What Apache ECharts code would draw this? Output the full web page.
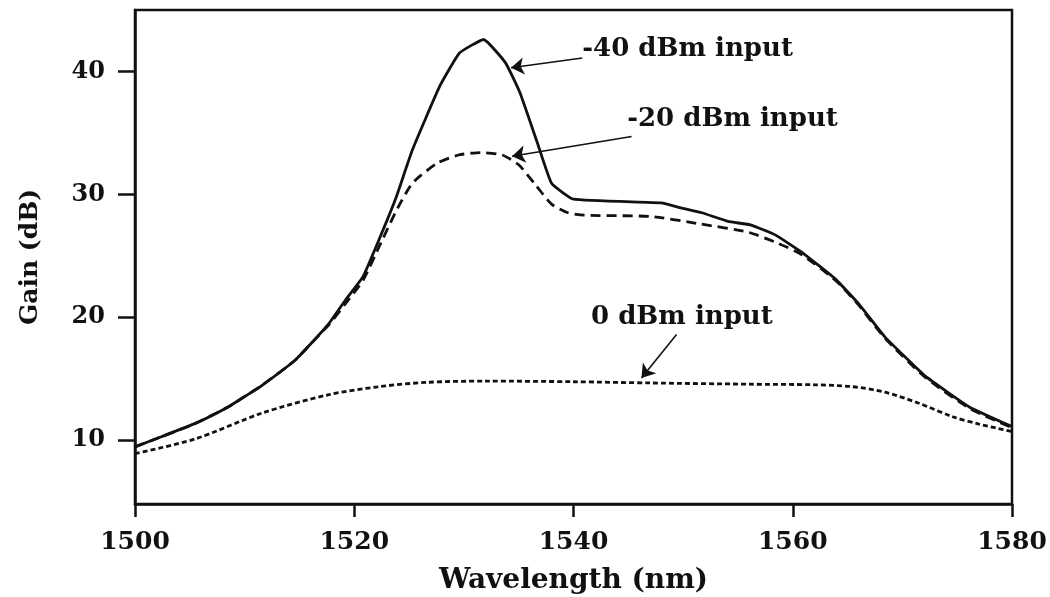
<!DOCTYPE html>
<html>
<head>
<meta charset="utf-8">
<script src="https://cdn.jsdelivr.net/npm/echarts@6/dist/echarts.min.js"></script>
<style>
html,body{margin:0;padding:0;background:#fff;}
#chart{width:1050px;height:597px;}
</style>
</head>
<body>
<div id="chart"></div>
<script>
// ---- data ----
const wl40   = [1500, 1502.4, 1505.5, 1508.5, 1510.1, 1511.5, 1514.6, 1516.1, 1517.7, 1519.2, 1520.8, 1522.3, 1523.8, 1525.3, 1527.8, 1529.6, 1531.8, 1533.8, 1535.1, 1536.7, 1538.0, 1540.0, 1548.0, 1549.8, 1551.7, 1554.1, 1556.2, 1558.4, 1560.8, 1563.9, 1566.0, 1568.4, 1572.1, 1576.1, 1580];
const gain40 = [9.45, 10.27, 11.36, 12.7, 13.6, 14.4, 16.5, 17.9, 19.5, 21.4, 23.3, 26.4, 29.7, 33.6, 38.8, 41.5, 42.6, 40.7, 38.3, 34.2, 30.9, 29.6, 29.3, 28.9, 28.5, 27.8, 27.5, 26.7, 25.3, 23.1, 21.1, 18.4, 15.2, 12.7, 11.1];

const wl20   = [1500, 1502.4, 1505.5, 1508.5, 1510.1, 1511.5, 1514.6, 1516.1, 1517.7, 1519.2, 1520.8, 1522.3, 1523.8, 1525.3, 1527.5, 1529.5, 1531.5, 1533.5, 1535.0, 1536.6, 1538.0, 1539.5, 1541.0, 1547.0, 1551.5, 1556.0, 1558.7, 1560.8, 1563.9, 1566.0, 1568.4, 1572.1, 1576.1, 1580];
const gain20 = [9.45, 10.27, 11.36, 12.7, 13.6, 14.4, 16.5, 17.9, 19.4, 21.1, 23.0, 25.8, 28.6, 30.9, 32.5, 33.2, 33.4, 33.2, 32.4, 30.7, 29.2, 28.5, 28.3, 28.2, 27.6, 26.9, 26.0, 25.1, 23.0, 21.0, 18.3, 15.1, 12.6, 11.0];

const wl0    = [1500, 1505.5, 1511.6, 1517.7, 1522.3, 1526.6, 1532, 1540, 1547, 1556, 1562, 1565.4, 1568.4, 1571.5, 1574.6, 1577, 1580];
const gain0  = [8.9, 10.1, 12.2, 13.7, 14.35, 14.7, 14.8, 14.75, 14.65, 14.55, 14.5, 14.35, 13.9, 13.0, 11.9, 11.3, 10.7];

const xTicks = [1500, 1520, 1540, 1560, 1580];
const yTicks = [10, 20, 30, 40];

// annotations: text, text anchor (left-middle), arrow tail, arrow head — all in data coordinates
const annoText  = ['-40 dBm input', '-20 dBm input', '0 dBm input'];
const annoPos   = [[1540.8, 41.8], [1544.9, 36.1], [1541.6, 20.0]];
const arrowTail = [[1540.8, 41.1], [1545.3, 34.7], [1549.4, 18.6]];
const arrowHead = [[1534.3, 40.3], [1534.4, 33.1], [1546.2, 15.05]];

// ---- chart ----
const FONT = 'DejaVu Serif';
const zip = (xs, ys) => xs.map((x, i) => [x, ys[i]]);

const chart = echarts.init(document.getElementById('chart'), null, {renderer: 'canvas'});

const option = {
  animation: false,
  backgroundColor: '#fff',
  grid: {left: 135, right: 38, top: 10, bottom: 93, containLabel: false, outerBoundsMode: 'none',
    show: true, borderColor: '#111', borderWidth: 2.5, backgroundColor: 'transparent'},
  xAxis: {
    type: 'value', min: 1500, max: 1580, interval: 20,
    name: 'Wavelength (nm)', nameLocation: 'middle', nameGap: 63,
    nameTextStyle: {fontFamily: FONT, fontWeight: 'bold', fontSize: 28, color: '#111'},
    axisLine: {show: true, lineStyle: {color: '#111', width: 2.5}},
    axisTick: {show: true, inside: false, length: 13, lineStyle: {color: '#111', width: 2.5}},
    axisLabel: {fontFamily: FONT, fontWeight: 'bold', fontSize: 25, color: '#111', margin: 26,
      customValues: xTicks, formatter: v => String(v)},
    splitLine: {show: false}
  },
  yAxis: {
    type: 'value', min: 4.8, max: 45,
    name: 'Gain (dB)', nameLocation: 'middle', nameGap: 92, nameRotate: 90,
    nameTextStyle: {fontFamily: FONT, fontWeight: 'bold', fontSize: 25, color: '#111'},
    axisLine: {show: true, lineStyle: {color: '#111', width: 2.5}},
    axisTick: {show: true, inside: false, length: 17, lineStyle: {color: '#111', width: 2.5}, customValues: yTicks},
    axisLabel: {fontFamily: FONT, fontWeight: 'bold', fontSize: 24, color: '#111', margin: 30,
      customValues: yTicks, formatter: v => String(v)},
    splitLine: {show: false}
  },
  series: [
    {
      name: '-40 dBm input', type: 'line', data: zip(wl40, gain40), showSymbol: false, smooth: 0.12,
      lineStyle: {color: '#111', width: 2.8, type: 'solid'},
      markLine: {
        silent: true, animation: false, symbol: ['none', 'arrow'], symbolSize: 13,
        label: {show: false},
        lineStyle: {color: '#111', width: 1.6, type: 'solid'},
        data: arrowTail.map((t, i) => [{coord: t}, {coord: arrowHead[i]}])
      },
      markPoint: {
        silent: true, animation: false, symbol: 'circle', symbolSize: 0,
        label: {show: true, position: 'right', distance: 0, fontFamily: FONT, fontWeight: 'bold', fontSize: 26, color: '#111',
          formatter: p => p.name},
        data: annoText.map((t, i) => ({name: t, coord: annoPos[i], value: 0}))
      },
      z: 3
    },
    {
      name: '-20 dBm input', type: 'line', data: zip(wl20, gain20), showSymbol: false, smooth: 0.2,
      lineStyle: {color: '#111', width: 2.8, type: [10, 6]}, z: 2
    },
    {
      name: '0 dBm input', type: 'line', data: zip(wl0, gain0), showSymbol: false, smooth: 0.3,
      lineStyle: {color: '#111', width: 2.8, type: [5, 3]}, z: 2
    }
  ]
};
chart.setOption(option);
</script>
</body>
</html>
